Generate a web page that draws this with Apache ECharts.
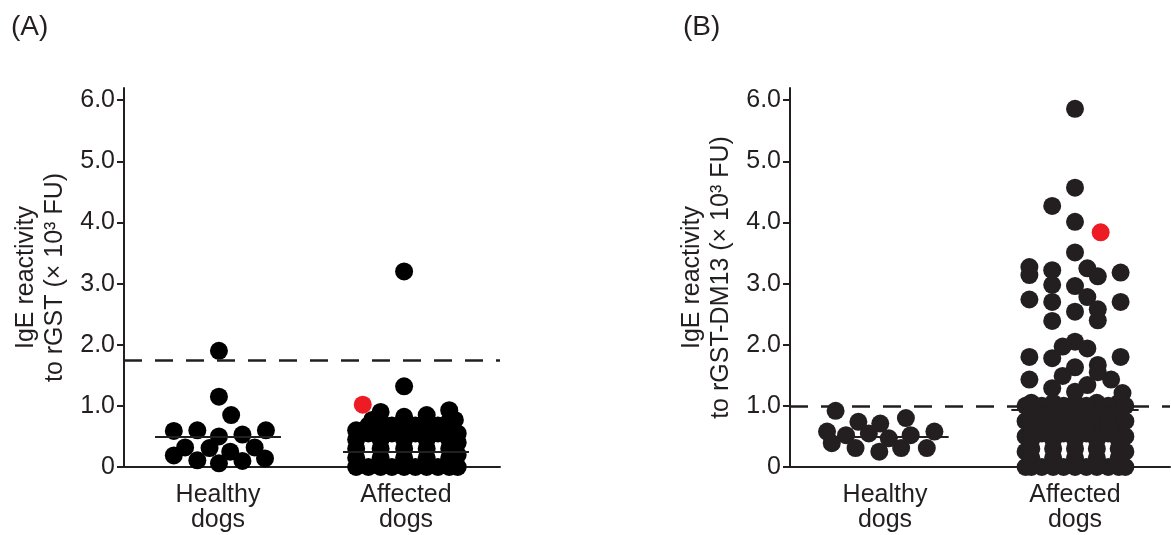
<!DOCTYPE html>
<html><head><meta charset="utf-8">
<script src="https://cdn.jsdelivr.net/npm/echarts@6/dist/echarts.min.js"></script>
<style>html,body{margin:0;padding:0;background:#fff}#c{width:1171px;height:535px}</style>
</head><body><div id="c"></div>
<script>
// ---------- DATA ----------
const categories = ['Healthy\ndogs', 'Affected\ndogs'];
const yTicks = [0, 1, 2, 3, 4, 5, 6];
const cutoffA = 1.75;
const cutoffB = 1.0;
const medianA = [0.49, 0.25];
const medianB = [0.49, 0.93];

// Panel A — rGST (values ×10^3 FU; offsets = horizontal spread within the category)
const healthyA =       [1.90, 1.15, 0.85, 0.59, 0.60, 0.53, 0.60, 0.50, 0.32, 0.19, 0.11, 0.31, 0.25, 0.32, 0.14, 0.10, 0.06];
const healthyAOffset = [0.01, 0.01, 0.14, -0.47, -0.22, 0.26, 0.51, 0.01, -0.35, -0.47, -0.22, -0.09, 0.13, 0.39, 0.50, 0.26, 0.01];

const affectedA = [3.20, 1.32, 0.77,
  0.00, 0.15, 0.30, 0.45, 0.60,
  0.00, 0.15, 0.30, 0.45, 0.60, 0.75, 0.90,
  0.00, 0.15, 0.30, 0.45, 0.60, 0.82,
  0.00, 0.15, 0.30, 0.45, 0.60, 0.85,
  0.00, 0.15, 0.30, 0.45, 0.60, 0.75, 0.93,
  0.00, 0.20, 0.40, 0.55, 0.77,
  0.00, 0.55, 0.68,
  0.00, 0.55, 0.68,
  0.00, 0.55, 0.68,
  0.00, 0.55, 0.68];
const affectedAOffset = [-0.02, -0.02, -0.36,
  -0.53, -0.53, -0.53, -0.53, -0.53,
  -0.27, -0.27, -0.27, -0.27, -0.27, -0.27, -0.27,
  -0.02, -0.02, -0.02, -0.02, -0.02, -0.02,
  0.22, 0.22, 0.22, 0.22, 0.22, 0.22,
  0.46, 0.46, 0.46, 0.46, 0.46, 0.46, 0.46,
  0.55, 0.55, 0.55, 0.55, 0.52,
  -0.40, -0.40, -0.40,
  -0.15, -0.15, -0.15,
  0.10, 0.10, 0.10,
  0.34, 0.34, 0.34];
const highlightA = [1.02];
const highlightAOffset = [-0.46];

// Panel B — rGST-DM13
const healthyB =       [0.92, 0.74, 0.71, 0.80, 0.58, 0.52, 0.55, 0.47, 0.52, 0.58, 0.39, 0.31, 0.25, 0.31, 0.31];
const healthyBOffset = [-0.52, -0.28, -0.05, 0.22, -0.61, -0.41, -0.17, 0.04, 0.27, 0.52, -0.56, -0.31, -0.06, 0.17, 0.44];

const affectedB = [5.86, 4.57, 4.27, 4.01, 3.51, 3.27, 3.14, 3.22, 3.25, 3.12, 3.18, 2.98, 2.96,
  2.74, 2.70, 2.78, 2.70, 2.58, 2.54, 2.39, 2.40, 2.05, 1.97, 1.94, 1.80, 1.78, 1.80, 1.67, 1.63,
  1.49, 1.43, 1.43, 1.29, 1.34, 1.23, 1.21, 1.55,
  0.00, 0.25, 0.50, 0.75, 1.00,
  0.00, 0.15, 0.30, 0.45, 0.60, 0.75, 0.90, 1.05,
  0.00, 0.15, 0.30, 0.45, 0.60, 0.75, 0.90, 1.05,
  0.00, 0.15, 0.30, 0.45, 0.60, 0.75, 0.90, 1.05,
  0.00, 0.15, 0.30, 0.45, 0.60, 0.75, 0.90, 1.05,
  0.00, 0.15, 0.30, 0.45, 0.60, 0.75, 0.90, 1.05,
  0.00, 0.25, 0.50, 0.75, 1.00,
  0.00, 0.55, 0.70, 0.85, 1.00,
  0.00, 0.55, 0.70, 0.85, 1.00,
  0.00, 0.55, 0.70, 0.85, 1.00,
  0.00, 0.55, 0.70, 0.85, 1.00];
const affectedBOffset = [0, 0, -0.24, 0, 0, -0.48, -0.48, -0.24, 0.13, 0.24, 0.48, -0.24, 0,
  -0.48, -0.24, 0.13, 0.48, 0.24, 0, -0.24, 0.24, 0, -0.13, 0.13, -0.48, -0.24, 0.48, 0.24, 0,
  -0.13, -0.48, 0.38, -0.24, 0.13, 0, 0.50, 0.24,
  -0.52, -0.52, -0.52, -0.52, -0.52,
  -0.46, -0.46, -0.46, -0.46, -0.46, -0.46, -0.46, -0.46,
  -0.23, -0.23, -0.23, -0.23, -0.23, -0.23, -0.23, -0.23,
  0, 0, 0, 0, 0, 0, 0, 0,
  0.23, 0.23, 0.23, 0.23, 0.23, 0.23, 0.23, 0.23,
  0.46, 0.46, 0.46, 0.46, 0.46, 0.46, 0.46, 0.46,
  0.53, 0.53, 0.53, 0.53, 0.53,
  -0.35, -0.35, -0.35, -0.35, -0.35,
  -0.12, -0.12, -0.12, -0.12, -0.12,
  0.12, 0.12, 0.12, 0.12, 0.12,
  0.35, 0.35, 0.35, 0.35, 0.35];
const highlightB = [3.84];
const highlightBOffset = [0.27];

// ---------- CHART ----------
const FONT = 'Liberation Sans, Arial, sans-serif';
const INK = '#231f20';
const catPos = [1, 3];        // category centres on the hidden value axis (0..4)
const medianHalf = 0.67;

function pts(vals, offs, cat) { return vals.map((v, i) => [catPos[cat] + offs[i], v]); }

function panel(idx, left, right, name, dotColor, healthy, hOff, affected, aOff, hl, hlOff, cutoff, medians) {
  const grid = { left: left, right: right, top: 88, bottom: 68 };
  const xCat = { type: 'category', gridIndex: idx, data: categories, position: 'bottom',
    axisLine: { lineStyle: { color: INK, width: 2 } },
    axisTick: { alignWithLabel: true, length: 8, lineStyle: { color: INK, width: 2 } },
    axisLabel: { color: INK, fontSize: 25, fontFamily: FONT, lineHeight: 25, margin: 16 } };
  const xVal = { type: 'value', gridIndex: idx, min: 0, max: 4, show: false };
  const y = { type: 'value', gridIndex: idx, min: 0, max: 6.2, interval: 1,
    name: name, nameLocation: 'middle', nameGap: 54,
    nameTextStyle: { color: INK, fontSize: 25, fontFamily: FONT, lineHeight: 29 },
    axisLine: { show: true, lineStyle: { color: INK, width: 2 } },
    axisTick: { show: true, length: 7, customValues: yTicks, lineStyle: { color: INK, width: 2 } },
    axisLabel: { color: INK, fontSize: 25, fontFamily: FONT, margin: 9, customValues: yTicks,
      formatter: v => v === 0 ? '0' : v.toFixed(1) },
    splitLine: { show: false } };
  const xi = idx * 2 + 1;
  const base = { type: 'scatter', xAxisIndex: xi, yAxisIndex: idx, symbolSize: 18, animation: false,
    itemStyle: { color: dotColor, opacity: 1 } };
  const series = [
    Object.assign({}, base, { data: pts(healthy, hOff, 0),
      markLine: { silent: true, symbol: 'none', animation: false, label: { show: false },
        lineStyle: { color: INK, width: 2.5, type: [18, 13] },
        data: [{ yAxis: cutoff }] } }),
    Object.assign({}, base, { data: pts(affected, aOff, 1),
      markLine: { silent: true, symbol: 'none', animation: false, label: { show: false },
        lineStyle: { color: INK, width: 2, type: 'solid' },
        data: medians.map((m, c) => [{ coord: [catPos[c] - medianHalf, m] }, { coord: [catPos[c] + medianHalf, m] }]) } }),
    Object.assign({}, base, { data: pts(hl, hlOff, 1), itemStyle: { color: '#ed1c24', opacity: 1 }, z: 5 })
  ];
  return { grid, xAxes: [xCat, xVal], y, series };
}

const pA = panel(0, 124, 671, 'IgE reactivity\nto rGST (× 10³ FU)', '#000000',
  healthyA, healthyAOffset, affectedA, affectedAOffset, highlightA, highlightAOffset, cutoffA, medianA);
const pB = panel(1, 790, 1, 'IgE reactivity\nto rGST-DM13 (× 10³ FU)', INK,
  healthyB, healthyBOffset, affectedB, affectedBOffset, highlightB, highlightBOffset, cutoffB, medianB);

const chart = echarts.init(document.getElementById('c'), null, { renderer: 'canvas' });
chart.setOption({
  animation: false,
  backgroundColor: '#ffffff',
  title: [
    { text: '(A)', left: 6, top: 8, textStyle: { fontSize: 28, fontWeight: 'normal', color: INK, fontFamily: FONT } },
    { text: '(B)', left: 678, top: 8, textStyle: { fontSize: 28, fontWeight: 'normal', color: INK, fontFamily: FONT } }
  ],
  grid: [pA.grid, pB.grid],
  xAxis: [...pA.xAxes, ...pB.xAxes],
  yAxis: [pA.y, pB.y],
  series: [...pA.series, ...pB.series]
});
</script></body></html>
